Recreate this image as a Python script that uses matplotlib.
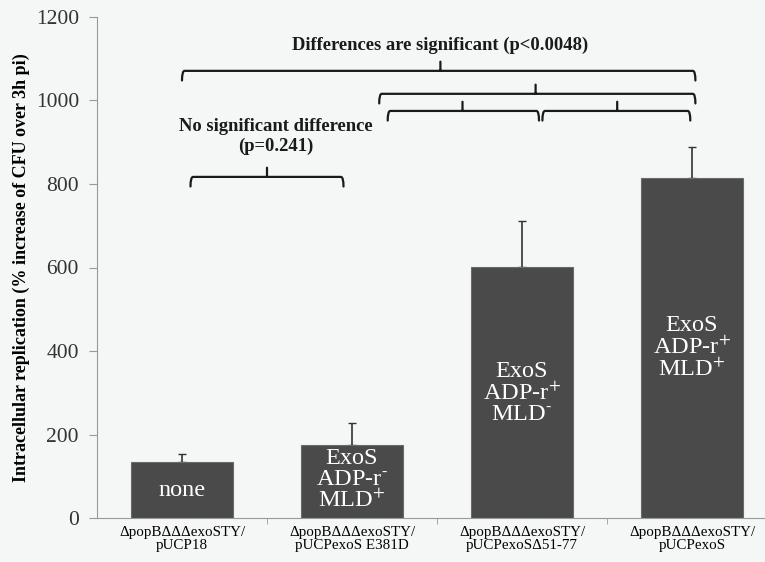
import matplotlib.pyplot as plt
import numpy as np
from matplotlib.path import Path
from matplotlib.patches import PathPatch

# Replication values and upper error
strains = ["\u0394popB\u0394\u0394\u0394exoSTY/\npUCP18",
           "\u0394popB\u0394\u0394\u0394exoSTY/\npUCPexoS E381D",
           "\u0394popB\u0394\u0394\u0394exoSTY/\npUCPexoS\u039451-77",
           "\u0394popB\u0394\u0394\u0394exoSTY/\npUCPexoS"]
replication = [134, 176, 602, 814]
err_upper = [20, 52, 109, 75]
bar_text = ["none",
            "ExoS\nADP-r$^{\\text{-}}$\nMLD$^{+}$",
            "ExoS\nADP-r$^{+}$\nMLD$^{\\text{-}}$",
            "ExoS\nADP-r$^{+}$\nMLD$^{+}$"]
text_y = [67, 91, 299, 407]

# brackets: (x0, x1, x_tick, y_line)
brackets = [(0.0, 3.02, 1.52, 1071),
            (1.16, 3.02, 2.08, 1016),
            (1.21, 2.10, 1.65, 975),
            (2.12, 2.99, 2.56, 975),
            (0.05, 0.95, 0.50, 817)]

plt.rcParams['font.family'] = ['Liberation Serif', 'DejaVu Serif']
plt.rcParams['mathtext.fontset'] = 'stix'

bg = '#f5f6f6'
fig = plt.figure(figsize=(7.65, 5.62), dpi=100, facecolor=bg)
ax = fig.add_axes([97/765, 44/562, 668/765, 501/562], facecolor=bg)

x = np.arange(len(replication))
ax.bar(x, replication, width=0.6, color='#4a4a4a', edgecolor='#6a6a6a',
       linewidth=0.8, zorder=2)
ax.errorbar(x, replication, yerr=[np.zeros(4), err_upper], fmt='none',
            ecolor='#333333', elinewidth=1.2, capsize=3, capthick=1, zorder=1)

for xi, t, ty in zip(x, bar_text, text_y):
    ax.text(xi, ty, t, ha='center', va='center', color='white',
            fontsize=17.5, linespacing=1.0)


def bracket(x0, x1, xt, y, h=23, th=22):
    r = 0.015
    verts = [(x0, y - h), (x0, y), (x0 + r, y), (x1 - r, y), (x1, y),
             (x1, y - h), (xt, y), (xt, y + th)]
    codes = [Path.MOVETO, Path.CURVE3, Path.CURVE3, Path.LINETO,
             Path.CURVE3, Path.CURVE3, Path.MOVETO, Path.LINETO]
    ax.add_patch(PathPatch(Path(verts, codes), fill=False, lw=1.6,
                           color='#1a1a1a', capstyle='round',
                           joinstyle='round', clip_on=False))


for b in brackets:
    bracket(*b)

ax.text(1.52, 1131, "Differences are significant (p<0.0048)", ha='center',
        va='center', fontsize=13.4, fontweight='bold', color='#1a1a1a')
ax.text(0.55, 937, "No significant difference", ha='center', va='center',
        fontsize=13.4, fontweight='bold', color='#1a1a1a')
ax.text(0.55, 889, "(p=0.241)", ha='center', va='center',
        fontsize=13.4, fontweight='bold', color='#1a1a1a')

ax.set_ylim(0, 1200)
ax.set_xlim(-0.5, -0.5 + 668/170)
ax.set_yticks(range(0, 1201, 200))
ax.set_xticks(x)
ax.set_xticklabels(strains, fontsize=10.8, linespacing=1.0)
ax.set_xticks([0.5, 1.5, 2.5], minor=True)
ax.tick_params(axis='x', which='major', length=0, pad=6)
ax.tick_params(axis='x', which='minor', length=4, color='#999999')
ax.tick_params(axis='y', length=6, pad=7, color='#999999', labelsize=15.5,
               labelcolor='#333333')
ax.set_ylabel("Intracellular replication (% increase of CFU over 3h pi)",
              fontsize=13, fontweight='bold', labelpad=4)
for s in ['top', 'right']:
    ax.spines[s].set_visible(False)
for s in ['left', 'bottom']:
    ax.spines[s].set_color('#999999')

fig.savefig('out.png', dpi=100, facecolor=bg)
